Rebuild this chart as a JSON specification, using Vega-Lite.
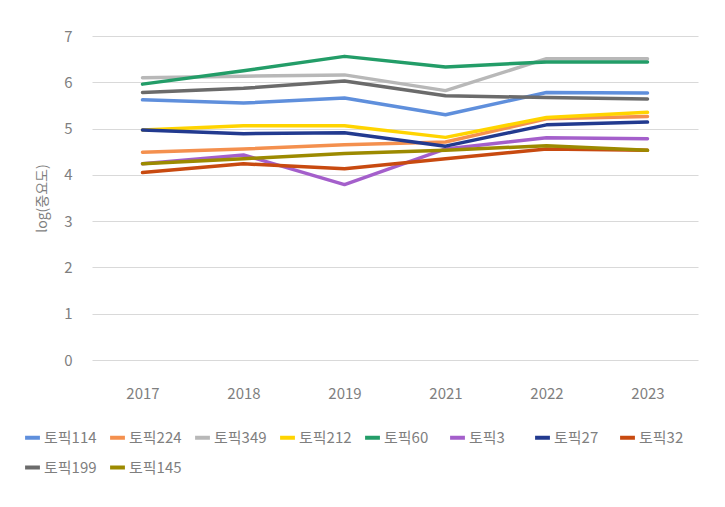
{
  "$schema": "https://vega.github.io/schema/vega-lite/v6.json",
  "autosize": {"type": "none"},
  "width": 606,
  "height": 324,
  "padding": {"left": 92, "top": 36, "right": 27, "bottom": 147},
  "background": "white",
  "config": {
    "font": "Noto Sans CJK KR",
    "view": {"stroke": null}
  },
  "data": {
    "values": [
      {"topic": "토픽114", "year": "2017", "v": 5.62}, {"topic": "토픽114", "year": "2018", "v": 5.55}, {"topic": "토픽114", "year": "2019", "v": 5.66}, {"topic": "토픽114", "year": "2021", "v": 5.30}, {"topic": "토픽114", "year": "2022", "v": 5.78}, {"topic": "토픽114", "year": "2023", "v": 5.77},
      {"topic": "토픽224", "year": "2017", "v": 4.49}, {"topic": "토픽224", "year": "2018", "v": 4.56}, {"topic": "토픽224", "year": "2019", "v": 4.65}, {"topic": "토픽224", "year": "2021", "v": 4.71}, {"topic": "토픽224", "year": "2022", "v": 5.21}, {"topic": "토픽224", "year": "2023", "v": 5.26},
      {"topic": "토픽349", "year": "2017", "v": 6.10}, {"topic": "토픽349", "year": "2018", "v": 6.13}, {"topic": "토픽349", "year": "2019", "v": 6.16}, {"topic": "토픽349", "year": "2021", "v": 5.82}, {"topic": "토픽349", "year": "2022", "v": 6.51}, {"topic": "토픽349", "year": "2023", "v": 6.51},
      {"topic": "토픽212", "year": "2017", "v": 4.97}, {"topic": "토픽212", "year": "2018", "v": 5.06}, {"topic": "토픽212", "year": "2019", "v": 5.06}, {"topic": "토픽212", "year": "2021", "v": 4.81}, {"topic": "토픽212", "year": "2022", "v": 5.24}, {"topic": "토픽212", "year": "2023", "v": 5.35},
      {"topic": "토픽60", "year": "2017", "v": 5.96}, {"topic": "토픽60", "year": "2018", "v": 6.25}, {"topic": "토픽60", "year": "2019", "v": 6.56}, {"topic": "토픽60", "year": "2021", "v": 6.33}, {"topic": "토픽60", "year": "2022", "v": 6.44}, {"topic": "토픽60", "year": "2023", "v": 6.44},
      {"topic": "토픽3", "year": "2017", "v": 4.24}, {"topic": "토픽3", "year": "2018", "v": 4.43}, {"topic": "토픽3", "year": "2019", "v": 3.79}, {"topic": "토픽3", "year": "2021", "v": 4.56}, {"topic": "토픽3", "year": "2022", "v": 4.80}, {"topic": "토픽3", "year": "2023", "v": 4.78},
      {"topic": "토픽27", "year": "2017", "v": 4.97}, {"topic": "토픽27", "year": "2018", "v": 4.89}, {"topic": "토픽27", "year": "2019", "v": 4.91}, {"topic": "토픽27", "year": "2021", "v": 4.62}, {"topic": "토픽27", "year": "2022", "v": 5.08}, {"topic": "토픽27", "year": "2023", "v": 5.14},
      {"topic": "토픽32", "year": "2017", "v": 4.05}, {"topic": "토픽32", "year": "2018", "v": 4.24}, {"topic": "토픽32", "year": "2019", "v": 4.13}, {"topic": "토픽32", "year": "2021", "v": 4.35}, {"topic": "토픽32", "year": "2022", "v": 4.56}, {"topic": "토픽32", "year": "2023", "v": 4.53},
      {"topic": "토픽199", "year": "2017", "v": 5.78}, {"topic": "토픽199", "year": "2018", "v": 5.87}, {"topic": "토픽199", "year": "2019", "v": 6.03}, {"topic": "토픽199", "year": "2021", "v": 5.71}, {"topic": "토픽199", "year": "2022", "v": 5.67}, {"topic": "토픽199", "year": "2023", "v": 5.64},
      {"topic": "토픽145", "year": "2017", "v": 4.24}, {"topic": "토픽145", "year": "2018", "v": 4.35}, {"topic": "토픽145", "year": "2019", "v": 4.46}, {"topic": "토픽145", "year": "2021", "v": 4.53}, {"topic": "토픽145", "year": "2022", "v": 4.63}, {"topic": "토픽145", "year": "2023", "v": 4.53}
    ]
  },
  "mark": {"type": "line", "strokeWidth": 3.5, "strokeCap": "round", "strokeJoin": "round"},
  "encoding": {
    "x": {
      "field": "year", "type": "ordinal",
      "scale": {"type": "point", "padding": 0.5},
      "axis": {"title": null, "labelAngle": 0, "domain": false, "ticks": false, "grid": false,
               "labelFontSize": 15, "labelColor": "#7f7f7f", "labelPadding": 26}
    },
    "y": {
      "field": "v", "type": "quantitative",
      "scale": {"domain": [0, 7], "nice": false},
      "axis": {"title": "log(중요도)", "titleFontSize": 14, "titleFontWeight": "normal", "titleColor": "#7f7f7f",
               "titlePadding": 14, "values": [0,1,2,3,4,5,6,7], "domain": false, "ticks": false,
               "gridColor": "#d9d9d9", "gridWidth": 1, "labelFontSize": 15, "labelColor": "#7f7f7f", "labelPadding": 20}
    },
    "color": {
      "field": "topic", "type": "nominal",
      "scale": {
        "domain": ["토픽114", "토픽224", "토픽349", "토픽212", "토픽60", "토픽3", "토픽27", "토픽32", "토픽199", "토픽145"],
        "range": ["#5f8fdc", "#f4904e", "#b8b8b8", "#ffd400", "#239d68", "#a45fcb", "#223a8f", "#c84a10", "#6b6b6b", "#9c8a00"]
      },
      "legend": {
        "title": null, "orient": "none", "legendX": -69, "legendY": 392, "direction": "horizontal", "columns": 8,
        "gridAlign": "all",
        "symbolType": "stroke", "symbolStrokeWidth": 4, "symbolSize": 220,
        "labelFontSize": 15, "labelColor": "#7f7f7f", "labelOffset": 2, "columnPadding": 5, "rowPadding": 12
      }
    }
  }
}
